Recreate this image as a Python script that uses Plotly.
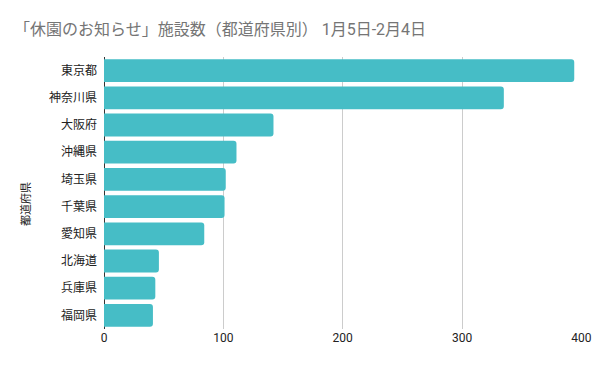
import plotly.graph_objects as go

prefectures = ["東京都", "神奈川県", "大阪府", "沖縄県", "埼玉県", "千葉県", "愛知県", "北海道", "兵庫県", "福岡県"]
counts = [394, 335, 142, 111, 102, 101, 84, 46, 43, 41]
x_ticks = [0, 100, 200, 300, 400]

title_text = "「休園のお知らせ」施設数（都道府県別） 1月5日-2月4日"
y_title = "都道府県"

FONT = "Roboto, 'Noto Sans CJK JP', sans-serif"

L, R, T, B = 104, 18, 57, 42
W, H = 600, 371
pw = W - L - R
ph = H - T - B

fig = go.Figure(go.Bar(
    x=counts,
    y=prefectures,
    orientation="h",
    marker=dict(color="#46BDC6", cornerradius=3, line=dict(width=0)),
    hoverinfo="x+y",
))

fig.update_layout(
    width=W, height=H,
    margin=dict(l=L, r=R, t=T, b=B, autoexpand=False),
    paper_bgcolor="white", plot_bgcolor="white",
    bargap=0.16,
    showlegend=False,
    font=dict(family=FONT, color="#222222", size=12),
    title=dict(text=title_text, x=14/W, xanchor="left", y=1-29/H, yanchor="middle",
               font=dict(family=FONT, size=16, color="#757575")),
    xaxis=dict(range=[0, 400.5], tickvals=x_ticks, showgrid=True, gridcolor="#cccccc", gridwidth=1,
               zeroline=True, zerolinecolor="#333333", zerolinewidth=1, showline=False,
               tickfont=dict(size=12, color="#222222"), ticks="", fixedrange=True, automargin=False),
    yaxis=dict(categoryorder="array", categoryarray=prefectures[::-1], showgrid=False,
               tickfont=dict(size=12, color="#222222"), ticks="", ticklabelstandoff=6,
               showline=False, fixedrange=True, automargin=False),
    annotations=[dict(text=y_title, x=(26 - L) / pw, xref="paper", y=1 - (204 - T) / ph, yref="paper",
                      showarrow=False, textangle=-90, font=dict(family=FONT, size=11, color="#222222"),
                      xanchor="center", yanchor="middle")],
)

fig.write_html("out.html", config={"displayModeBar": False},
               post_script="document.body.style.margin='0px';")
